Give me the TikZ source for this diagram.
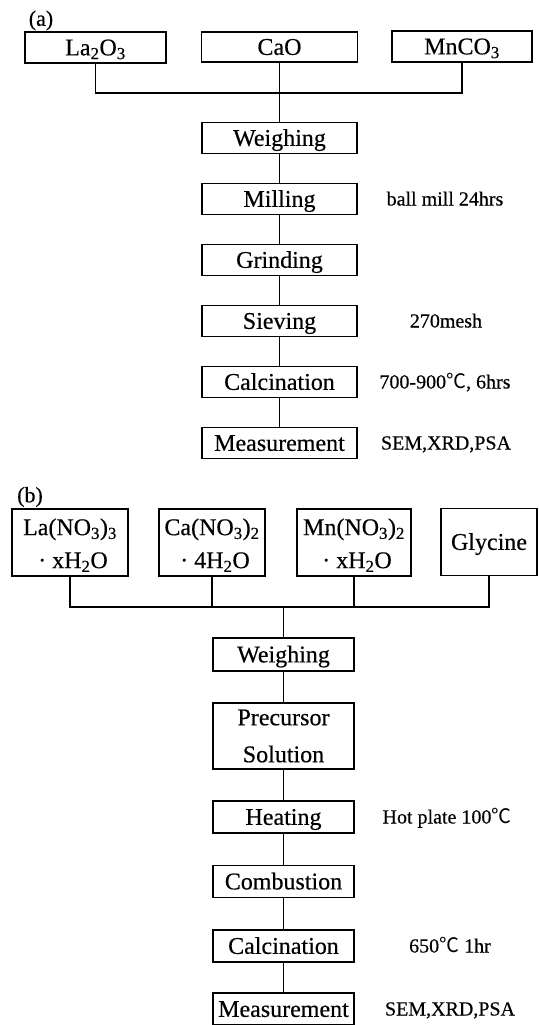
\documentclass[tikz,border=0pt]{standalone}
\usepackage{fontspec}
\setmainfont{Liberation Serif}[FakeBold=0.4]
\newfontfamily\cjk{Noto Sans CJK KR}
\usepackage{tikz}
\usetikzlibrary{positioning}
\tikzset{
  box/.style   = {draw, line width=1.1pt, inner sep=0pt, align=center,
                  font=\fontsize{24}{33}\selectfont},
  line1/.style = {text height=15.7pt, text depth=0pt},
  boxa/.style  = {box, line1, minimum width=155pt, minimum height=31pt},
  boxb/.style  = {box, line1, minimum width=141pt, minimum height=32pt},
  wire/.style  = {line width=1.1pt},
  note/.style  = {font=\fontsize{20}{24}\selectfont, text height=13pt, text depth=0pt},
  tag/.style   = {font=\fontsize{22}{26}\selectfont},
}
\newcommand{\degC}{{\cjk ℃}}
\newcommand{\lift}{\rule{0pt}{22pt}}

\begin{document}
\begin{tikzpicture}[x=1pt,y=-1pt]
  \useasboundingbox (0,0) rectangle (538,1025);
  % (a) oxide powders
  \node[tag] (taga) at (41,20.5) {(a)};
  \node[box, line1, minimum width=141pt, minimum height=31pt] (lao) at (95.5,47.5) {La\textsubscript{2}O\textsubscript{3}};
  \node[box, line1, minimum width=156pt, minimum height=30pt] (cao) at (279.5,47) {CaO};
  \node[box, line1, minimum width=140pt, minimum height=31pt] (mnc) at (462,46.5) {MnCO\textsubscript{3}};
  \coordinate (busa) at (279.5,93);
  \foreach \n/\t/\y in {a1/Weighing/138, a2/Milling/199, a3/Grinding/260,
                        a4/Sieving/321, a5/Calcination/382, a6/Measurement/443}
     {\node[boxa] (\n) at (279.5,\y) {\t};}
  \draw[wire] (lao.south) -- (lao.south |- busa) -- (mnc.south |- busa) -- (mnc.south);
  \draw[wire] (cao.south) -- (a1.north);
  \foreach \p/\q in {a1/a2, a2/a3, a3/a4, a4/a5, a5/a6}
     {\draw[wire] (\p.south) -- (\q.north);}
  \node[note] (na2) at (445,199) {ball mill 24hrs};
  \node[note] (na4) at (446,321) {270mesh};
  \node[note] (na5) at (445,382) {700-900\degC, 6hrs};
  \node[note] (na6) at (446,443) {SEM,XRD,PSA};
  % (b) nitrate solution
  \node[tag] (tagb) at (30,497) {(b)};
  \node[box, minimum width=116pt, minimum height=67pt] (lan) at (70,542.5)
     {\lift La(NO\textsubscript{3})\textsubscript{3}\\\ · xH\textsubscript{2}O};
  \node[box, minimum width=106pt, minimum height=67pt] (can) at (212,542.5)
     {\lift Ca(NO\textsubscript{3})\textsubscript{2}\\\ · 4H\textsubscript{2}O};
  \node[box, minimum width=114pt, minimum height=67pt] (mnn) at (354,542.5)
     {\lift Mn(NO\textsubscript{3})\textsubscript{2}\\\ · xH\textsubscript{2}O};
  \node[box, line1, minimum width=96pt, minimum height=67pt] (gly) at (489,542) {Glycine};
  \coordinate (busb) at (283.5,607);
  \node[boxb, minimum height=33pt] (b1) at (283.5,654.5) {Weighing};
  \node[box, minimum width=141pt, minimum height=66pt] (b2) at (283.5,736) {Precursor\\[4pt]Solution};
  \foreach \n/\t/\y in {b3/Heating/817, b4/Combustion/881.5, b5/Calcination/946,
                        b6/Measurement/1009}
     {\node[boxb] (\n) at (283.5,\y) {\t};}
  \draw[wire] (lan.south) -- (lan.south |- busb) -- (gly.south |- busb) -- (gly.south);
  \foreach \n in {can, mnn}
     {\draw[wire] (\n.south) -- (\n.south |- busb);}
  \draw[wire] (busb) -- (b1.north);
  \foreach \p/\q in {b1/b2, b2/b3, b3/b4, b4/b5, b5/b6}
     {\draw[wire] (\p.south) -- (\q.north);}
  \node[note] (nb3) at (447,817) {Hot plate 100\degC};
  \node[note] (nb5) at (450,946) {650\degC{} 1hr};
  \node[note] (nb6) at (450,1009) {SEM,XRD,PSA};
\end{tikzpicture}
\end{document}
